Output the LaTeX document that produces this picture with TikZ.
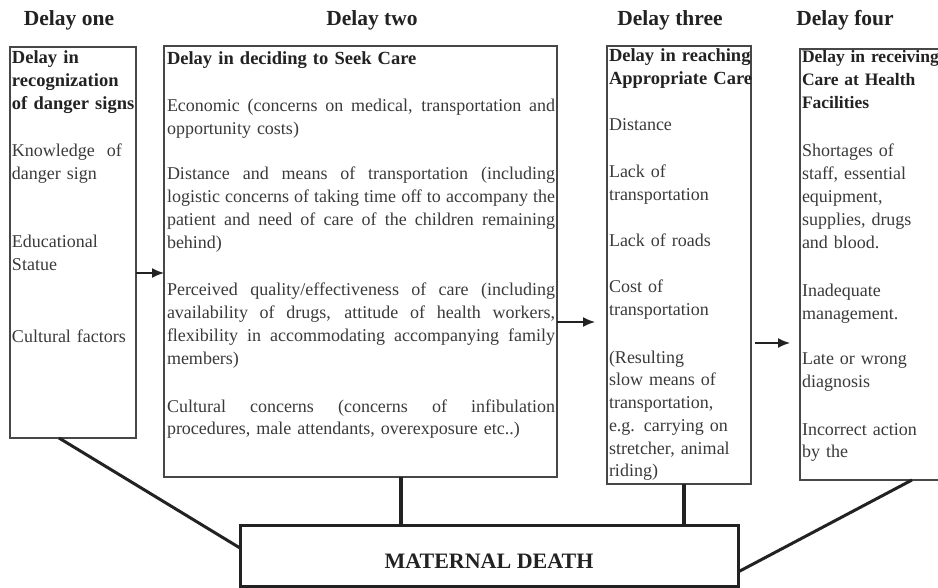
\documentclass[tikz,border=0pt]{standalone}
\usepackage{fontspec}
\setmainfont{Liberation Serif}
\usetikzlibrary{arrows.meta}
\definecolor{ink}{HTML}{222222}
\definecolor{txt}{HTML}{3A3A3A}
\definecolor{boxline}{HTML}{474747}
\newcommand\bodyf{\fontsize{18}{22.8}\selectfont}
\newcommand\headf{\fontsize{18.5}{23}\selectfont\bfseries}
\newcommand\titlef{\fontsize{21.5}{24}\selectfont\bfseries}
\newcommand\jline[1]{{\spaceskip=0pt\xspaceskip=0pt\makebox[388pt][s]{#1}}}
\begin{document}
\begin{tikzpicture}[x=1pt,y=-1pt,
  stagebox/.style={draw=boxline, line width=1.5pt, rectangle, inner sep=0pt, outer sep=0pt, anchor=north west},
  mdbox/.style={draw=ink, line width=3pt, rectangle, inner sep=0pt, outer sep=0pt, anchor=north west},
  para/.style={anchor=base west, inner sep=0pt, outer sep=0pt, text width=#1, align=left, font=\bodyf, text=txt},
  para/.default=150pt,
  head/.style={anchor=base west, inner sep=0pt, outer sep=0pt, text width=#1, align=left, font=\headf, text=ink},
  head/.default=150pt,
  title/.style={anchor=base, inner sep=0pt, font=\titlef, text=ink},
  arr/.style={draw=ink, line width=1.6pt, -{Latex[length=12pt,width=10pt]}},
  diag/.style={draw=ink, line width=3pt},
  vert/.style={draw=ink, line width=4.5pt}
]
\useasboundingbox (0,0) rectangle (938,588);

% titles
\node[title] (t1) at (69,26) {Delay one};
\node[title] (t2) at (372,26) {Delay two};
\node[title] (t3) at (670,26) {Delay three};
\node[title] (t4) at (845,26) {Delay four};

% boxes
\node[stagebox, minimum width=126pt, minimum height=391pt] (b1) at (10,47) {};
\node[stagebox, minimum width=393pt, minimum height=431pt] (b2) at (164,46) {};
\node[stagebox, minimum width=144pt, minimum height=438pt] (b3) at (607,46) {};
\node[stagebox, minimum width=150pt, minimum height=431pt] (b4) at (800,49) {};
\node[mdbox, minimum width=498pt, minimum height=61pt] (md) at (240,525) {};
\node[anchor=base, inner sep=0pt, font=\fontsize{22}{24}\selectfont\bfseries, text=ink] (mdt) at (489,568) {MATERNAL DEATH};

% box 1 text
\node[head] (h1) at (12,64) {Delay in\\recognization\\of danger signs};
\node[para] (p11) at (12,157) {Knowledge~~of\\danger sign};
\node[para] (p12) at (12,248) {Educational\\Statue};
\node[para] (p13) at (12,342) {Cultural factors};

% box 2 text
\node[head=390pt] (h2) at (167,65) {Delay in deciding to Seek Care};
\node[para=390pt] (p21) at (167,112) {\jline{Economic (concerns on medical, transportation and}\\opportunity costs)};
\node[para=390pt] (p22) at (167,180) {\jline{Distance and means of transportation (including}\\\jline{logistic concerns of taking time off to accompany the}\\\jline{patient and need of care of the children remaining}\\behind)};
\node[para=390pt] (p23) at (167,296) {\jline{Perceived quality/effectiveness of care (including}\\\jline{availability of drugs, attitude of health workers,}\\\jline{flexibility in accommodating accompanying family}\\members)};
\node[para=390pt] (p24) at (167,412) {\jline{Cultural concerns (concerns of infibulation}\\procedures, male attendants, overexposure etc..)};

% box 3 text
\node[head] (h3) at (609,62) {Delay in reaching\\Appropriate Care};
\node[para] (p31) at (609,131) {Distance};
\node[para] (p32) at (609,178) {Lack of\\transportation};
\node[para] (p33) at (609,247) {Lack of roads};
\node[para] (p34) at (609,293) {Cost of\\transportation};
\node[para] (p35) at (609,363) {(Resulting\\slow means of\\transportation,\\e.g. carrying on\\stretcher, animal\\riding)};

% box 4 text
\node[head=160pt, font=\fontsize{17.5}{23}\selectfont\bfseries] (h4) at (802,63) {Delay in receiving\\Care at Health\\Facilities};
\node[para] (p41) at (802,157) {Shortages of\\staff, essential\\equipment,\\supplies, drugs\\and blood.};
\node[para] (p42) at (802,297) {Inadequate\\management.};
\node[para] (p43) at (802,365) {Late or wrong\\diagnosis};
\node[para] (p44) at (802,435) {Incorrect action\\by the};

% arrows between stages
\draw[arr] (b1.east |- 0,273) -- (b2.west |- 0,273);
\draw[arr, shorten >=12pt] (b2.east |- 0,322) -- (b3.west |- 0,322);
\draw[arr, shorten <=4pt, shorten >=10pt] (b3.east |- 0,343) -- (b4.west |- 0,343);

% connectors to maternal death
\draw[diag] (b1.south -| 59,0) -- (md.west |- 0,548);
\draw[vert] (b2.south -| 401,0) -- (md.north -| 401,0);
\draw[vert] (b3.south -| 684,0) -- (md.north -| 684,0);
\draw[diag] (b4.south -| 912,0) -- (md.east |- 0,572);
\end{tikzpicture}
\end{document}
